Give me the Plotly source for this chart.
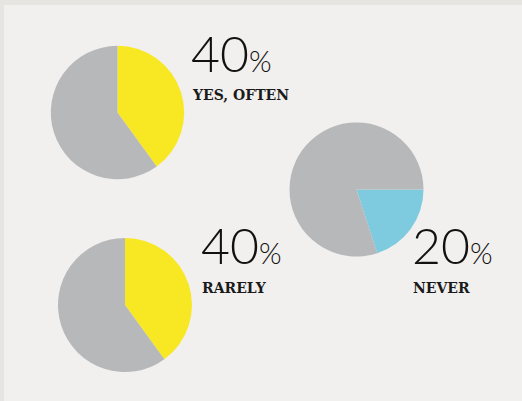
import plotly.graph_objects as go

W, H = 522, 401

labels = ["Highlighted", "Rest"]
yes_often = [40, 60]
rarely = [40, 60]
never = [20, 80]

pct_texts = ["40", "40", "20"]
cat_texts = ["YES, OFTEN", "RARELY", "NEVER"]

YELLOW = "#f8e823"
GRAY = "#b7b8ba"
BLUE = "#7ecbe0"
BG = "#f1f0ee"
FRAME = "#e6e5e1"

def dom(cx, cy, r):
    return dict(x=[(cx - r) / W, (cx + r) / W], y=[(H - cy - r) / H, (H - cy + r) / H])

fig = go.Figure()
pies = [
    (yes_often, (117.5, 112.5, 66.7), YELLOW, 0),
    (rarely, (125, 305, 67), YELLOW, 0),
    (never, (356.5, 189.5, 67), BLUE, 90),
]
for vals, (cx, cy, r), col, rot in pies:
    fig.add_trace(go.Pie(
        labels=labels, values=vals, sort=False, direction="clockwise",
        rotation=rot, marker=dict(colors=[col, GRAY], line=dict(width=0)),
        textinfo="none", hoverinfo="none", showlegend=False,
        domain=dom(cx, cy, r),
    ))

# text positions (pixels)
num_pos = [(189, 74), (199, 266), (410, 266)]
lab_pos = [(190, 101), (200, 294), (411, 294)]
for t, (x, y) in zip(pct_texts, num_pos):
    fig.add_annotation(
        x=x / W, y=1 - y / H, xref="paper", yref="paper", xanchor="left", yanchor="bottom",
        text=t + "<span style='font-size:29px'>%</span>", showarrow=False,
        font=dict(family="Lato", size=50, color="#111111", weight=300),
        yshift=-11,
    )
for t, (x, y) in zip(cat_texts, lab_pos):
    fig.add_annotation(
        x=x / W, y=1 - y / H, xref="paper", yref="paper", xanchor="left", yanchor="bottom",
        text="<b>" + t + "</b>", showarrow=False,
        font=dict(family="DejaVu Serif", size=14, color="#1a1a1a"),
        yshift=-4,
    )

fig.update_layout(
    width=W, height=H, margin=dict(l=0, r=0, t=0, b=0),
    paper_bgcolor=FRAME,
    shapes=[dict(type="rect", xref="paper", yref="paper", x0=4 / W, x1=1, y0=0, y1=1 - 5 / H,
                 fillcolor=BG, line=dict(width=0), layer="below")],
)
fig.write_html("out.html")
